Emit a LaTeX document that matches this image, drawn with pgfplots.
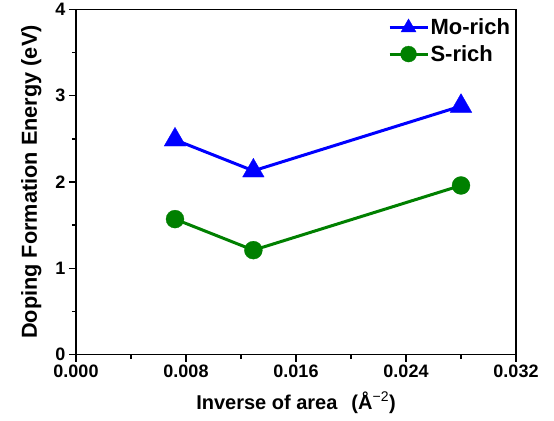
\documentclass[border=0pt]{standalone}
\usepackage{fontspec}
\setmainfont{Liberation Sans}
\usepackage{pgfplots}
\pgfplotsset{compat=1.18}
\definecolor{ogreen}{RGB}{0,128,0}
\begin{document}
\begin{tikzpicture}
\begin{axis}[
  width=440pt, height=345pt, scale only axis,
  xmin=0, xmax=0.032, ymin=0, ymax=4,
  xtick={0,0.008,0.016,0.024,0.032},
  ytick={0,1,2,3,4},
  minor x tick num=1, minor y tick num=1,
  tick align=outside, xtick pos=bottom, ytick pos=left,
  major tick length=7pt, minor tick length=4pt,
  axis line style={line width=1.5pt},
  every tick/.append style={line width=1.3pt, black},
  scaled x ticks=false,
  x tick label style={/pgf/number format/.cd, fixed, fixed zerofill, precision=3},
  /pgf/number format/assume math mode=true,
  ticklabel style={font=\bfseries\fontsize{18}{20}\selectfont},
  xlabel={Inverse of area\hspace{0.7em}(Å\textsuperscript{\mdseries −2})},
  ylabel={Doping Formation Energy (eV)},
  xlabel style={font=\bfseries\fontsize{20}{22}\selectfont},
  ylabel style={font=\bfseries\fontsize{21.7}{23}\selectfont},
  xlabel shift=7pt, ylabel shift=7pt,
  legend style={at={(0.997,0.985)}, anchor=north east, draw=none, fill=none,
    nodes={font=\bfseries\fontsize{22}{24}\selectfont, inner xsep=1.5pt}, row sep=5pt},
  legend cell align=left,
  legend image code/.code={\draw[mark repeat=2,mark phase=2,#1] plot coordinates {(0pt,0pt) (19pt,0pt) (38pt,0pt)};},
]
\addplot[blue, line width=3pt, mark=triangle*, mark size=12.5pt,
  mark options={solid, fill=blue, draw=blue, line width=0.3pt},
  legend image post style={mark size=8.7pt}]
  coordinates {(0.0072,2.49) (0.0129,2.13) (0.0280,2.88)};
\addlegendentry{Mo-rich}
\addplot[ogreen, line width=3pt, mark=*, mark size=9pt,
  mark options={solid, fill=ogreen, draw=ogreen, line width=0.3pt},
  legend image post style={mark size=8pt}]
  coordinates {(0.0072,1.57) (0.0129,1.21) (0.0280,1.96)};
\addlegendentry{S-rich}
\end{axis}
\path (current axis.south west) ++(-76pt,-66pt) rectangle ++(554pt,419pt);
\end{tikzpicture}
\end{document}
